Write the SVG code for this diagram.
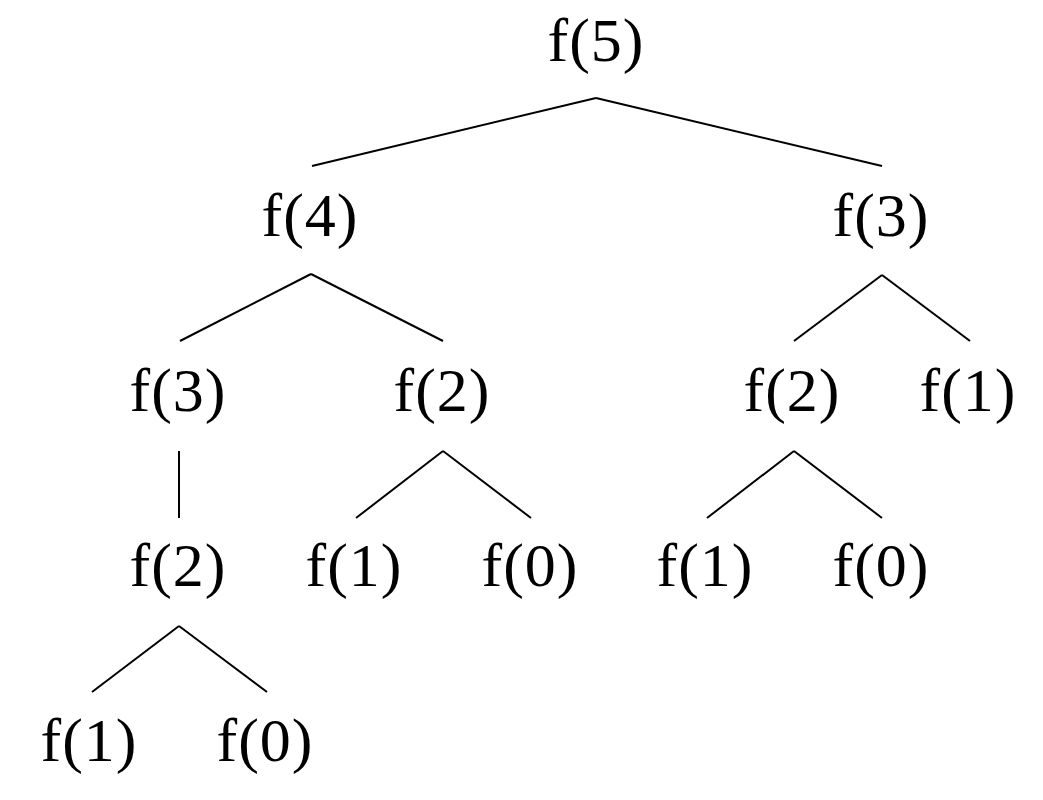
<svg xmlns="http://www.w3.org/2000/svg" width="1043" height="800" viewBox="0 0 1043 800">
<style>
text{font-family:"Liberation Serif","DejaVu Serif",serif;font-size:62px;letter-spacing:1px;fill:#000;text-anchor:middle}
line{stroke:#000;stroke-width:2}
</style>
<rect width="1043" height="800" fill="#fff"/>
<g id="connectors">
<line x1="596" y1="98" x2="312" y2="166"/>
<line x1="596" y1="98" x2="882" y2="166"/>
<line x1="311" y1="274" x2="180" y2="341"/>
<line x1="311" y1="274" x2="443" y2="341"/>
<line x1="882" y1="275" x2="794" y2="341"/>
<line x1="882" y1="275" x2="970" y2="341"/>
<line x1="179" y1="451" x2="179" y2="518"/>
<line x1="443" y1="451" x2="356" y2="518"/>
<line x1="443" y1="451" x2="531" y2="518"/>
<line x1="794" y1="451" x2="707" y2="518"/>
<line x1="794" y1="451" x2="882" y2="518"/>
<line x1="179" y1="626" x2="92" y2="692"/>
<line x1="179" y1="626" x2="267" y2="692"/>
</g>
<g id="n5"><text x="596" y="61">f(5)</text></g>
<g id="n4"><text x="310" y="236">f(4)</text></g>
<g id="n3r"><text x="881" y="236">f(3)</text></g>
<g id="n3l"><text x="178" y="411">f(3)</text></g>
<g id="n2a"><text x="442" y="411">f(2)</text></g>
<g id="n2b"><text x="792" y="411">f(2)</text></g>
<g id="n1a"><text x="968" y="411">f(1)</text></g>
<g id="n2c"><text x="178" y="586">f(2)</text></g>
<g id="n1b"><text x="354" y="586">f(1)</text></g>
<g id="n0a"><text x="530" y="586">f(0)</text></g>
<g id="n1c"><text x="705" y="586">f(1)</text></g>
<g id="n0b"><text x="881" y="586">f(0)</text></g>
<g id="n1d"><text x="89" y="761">f(1)</text></g>
<g id="n0c"><text x="265" y="761">f(0)</text></g>
</svg>
